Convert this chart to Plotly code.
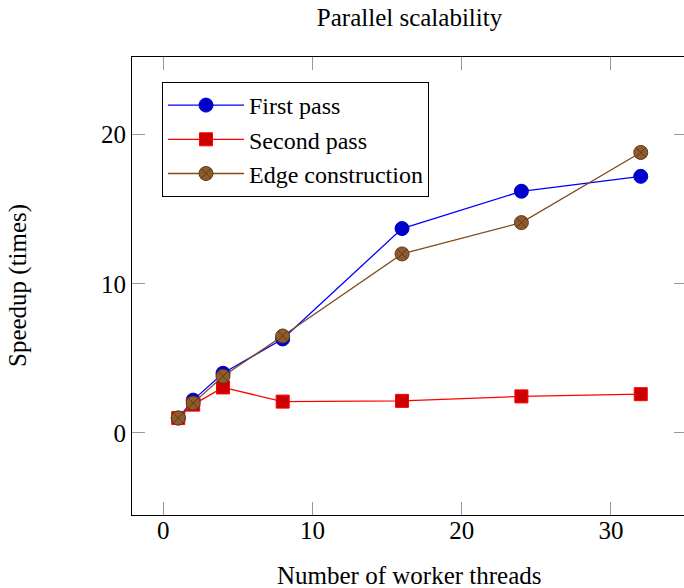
import plotly.graph_objects as go

threads = [1, 2, 4, 8, 16, 24, 32]
first_pass = [1.0, 2.2, 4.0, 6.3, 13.7, 16.2, 17.2]
second_pass = [1.0, 1.9, 3.05, 2.1, 2.15, 2.45, 2.6]
edge_construction = [1.0, 2.0, 3.8, 6.5, 12.0, 14.1, 18.8]

x_ticks = [0, 10, 20, 30]
y_ticks = [0, 10, 20]

FONT = "Liberation Serif"
FS = 25

fig = go.Figure()
fig.add_trace(go.Scatter(
    x=threads, y=first_pass, name="First pass", mode="lines+markers",
    line=dict(color="#0000FF", width=1.3),
    marker=dict(symbol="circle", size=14, color="#0000CC", line=dict(color="#0000CC", width=1))))
fig.add_trace(go.Scatter(
    x=threads, y=second_pass, name="Second pass", mode="lines+markers",
    line=dict(color="#FF0000", width=1.3),
    marker=dict(symbol="square", size=13, color="#CC0000", line=dict(color="#FF0000", width=1))))
fig.add_trace(go.Scatter(
    x=threads, y=edge_construction, name="Edge construction", mode="lines+markers",
    line=dict(color="#7F4C1A", width=1.3),
    marker=dict(symbol="circle-x", size=14, color="#8F5B2C", line=dict(color="#5E3A16", width=1))))

axis_common = dict(
    showgrid=False, zeroline=False, showline=True, linecolor="black", linewidth=1.2,
    mirror="ticks", ticks="inside", ticklen=13, tickcolor="#999999", tickwidth=1.3,
    tickfont=dict(family=FONT, size=FS, color="black"),
)

W, H = 690, 588
L, R, T, B = 132, 3, 57, 73
ph = H - T - B
pw = W - L - R

fig.update_layout(
    width=W, height=H,
    margin=dict(l=L, r=R, t=T, b=B),
    paper_bgcolor="white", plot_bgcolor="white",
    font=dict(family=FONT, size=FS, color="black"),
    title=dict(text="Parallel scalability", x=0.5, xref="paper", xanchor="center",
               y=1 - 17 / H, yref="container", yanchor="middle",
               font=dict(family=FONT, size=FS, color="black")),
    xaxis=dict(range=[-2.1, 35.1], tickvals=x_ticks, ticklabelstandoff=-7, **axis_common),
    yaxis=dict(range=[-5.5, 25.2], tickvals=y_ticks, **axis_common),
    legend=dict(x=30 / pw, y=(515 - 82) / ph, xanchor="left", yanchor="top",
                bordercolor="black", borderwidth=1, bgcolor="white",
                font=dict(family=FONT, size=24, color="black"),
                itemwidth=76, tracegroupgap=0),
    showlegend=True,
    annotations=[
        dict(text="Number of worker threads", x=0.5, y=(515 - 575) / ph, xref="paper", yref="paper",
             xanchor="center", yanchor="middle", showarrow=False,
             font=dict(family=FONT, size=FS, color="black")),
        dict(text="Speedup (times)", x=(18 - 132) / pw, y=0.5, xref="paper", yref="paper",
             xanchor="center", yanchor="middle", textangle=-90, showarrow=False,
             font=dict(family=FONT, size=FS, color="black")),
    ],
)

fig.write_html(
    "out.html",
    config={"displayModeBar": False},
    post_script=(
        "document.documentElement.style.overflow='hidden';"
        "document.body.style.margin='0';"
        "document.body.style.overflow='hidden';"
    ),
)
